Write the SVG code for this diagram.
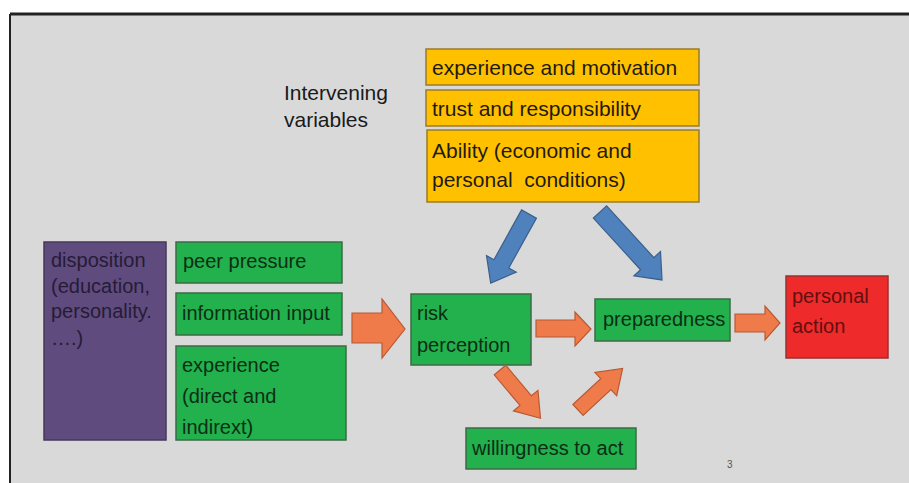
<svg xmlns="http://www.w3.org/2000/svg" width="909" height="483" viewBox="0 0 909 483">
<style>
text{font-family:"Liberation Sans",Arial,sans-serif;}
.y{fill:#ffc000;stroke:#9a7b2a;stroke-width:1.5}
.g{fill:#22b14c;stroke:#3d6b46;stroke-width:1.5}
.p{fill:#5f4b7e;stroke:#463a5a;stroke-width:1.5}
.r{fill:#ee2a2a;stroke:#9a3030;stroke-width:1.5}
.ty{font-size:21px;fill:#1f1a10}
.tg{font-size:20px;fill:#0c2e16}
.tp{font-size:20px;fill:#261b36}
.tr{font-size:20px;fill:#621010}
.o{fill:#ef7a4a;stroke:#b85a35;stroke-width:1.2}
.b{fill:#4f81bd;stroke:#3a5f8c;stroke-width:1.2}
</style>
<rect x="0" y="0" width="909" height="483" fill="#ffffff"/>
<rect x="10" y="15" width="899" height="468" fill="#d9d9d9"/>
<line x1="10" y1="14" x2="909" y2="14" stroke="#222" stroke-width="3"/>
<line x1="10" y1="14" x2="10" y2="483" stroke="#222" stroke-width="2"/>

<g id="intervening-label">
<text x="284" y="100" style="font-size:21px" fill="#1a1a1a">Intervening</text>
<text x="284" y="127" style="font-size:21px" fill="#1a1a1a">variables</text>
</g>
<g id="experience-motivation">
<rect class="y" x="426" y="49" width="273" height="36"/>
<text class="ty" x="432" y="75">experience and motivation</text>
</g>
<g id="trust-responsibility">
<rect class="y" x="426" y="90" width="273" height="36"/>
<text class="ty" x="432" y="116">trust and responsibility</text>
</g>
<g id="ability">
<rect class="y" x="427" y="130" width="272" height="72"/>
<text class="ty" x="432" y="158">Ability (economic and</text>
<text class="ty" x="432" y="187" xml:space="preserve">personal  conditions)</text>
</g>

<g id="disposition">
<rect class="p" x="44" y="242" width="122" height="198"/>
<text class="tp" x="51" y="267">disposition</text>
<text class="tp" x="51" y="293">(education,</text>
<text class="tp" x="51" y="318">personality.</text>
<text class="tp" x="51" y="345">….)</text>
</g>
<g id="peer-pressure">
<rect class="g" x="176" y="242" width="166" height="41"/>
<text class="tg" x="183" y="268">peer pressure</text>
</g>
<g id="information-input">
<rect class="g" x="176" y="293" width="166" height="42"/>
<text class="tg" x="182" y="320">information input</text>
</g>
<g id="experience">
<rect class="g" x="176" y="346" width="170" height="94"/>
<text class="tg" x="182" y="372">experience</text>
<text class="tg" x="182" y="403">(direct and</text>
<text class="tg" x="182" y="434">indirext)</text>
</g>
<g id="risk-perception">
<rect class="g" x="411" y="294" width="120" height="71"/>
<text class="tg" x="417" y="320">risk</text>
<text class="tg" x="417" y="352">perception</text>
</g>
<g id="preparedness">
<rect class="g" x="595" y="299" width="135" height="42"/>
<text class="tg" x="603" y="326">preparedness</text>
</g>
<g id="willingness">
<rect class="g" x="466" y="428" width="170" height="41"/>
<text class="tg" x="472" y="455">willingness to act</text>
</g>
<g id="personal-action">
<rect class="r" x="786" y="276" width="102" height="82"/>
<text class="tr" x="792" y="303">personal</text>
<text class="tr" x="792" y="333">action</text>
</g>

<g id="connectors">
<polygon class="o" points="352,313 382,313 382,299 405,329 382,358 382,343 352,343"/>
<polygon class="o" points="536,320 575,320 575,312 591,329 575,346 575,337 536,337"/>
<polygon class="o" points="735,314 765,314 765,306 780,323 765,340 765,332 735,332"/>
<polygon class="o" transform="translate(500,370) rotate(50)" points="0,-7.5 40,-7.5 40,-16 63,0 40,16 40,7.5 0,7.5"/>
<polygon class="o" transform="translate(578,410) rotate(-43)" points="0,-7.5 38,-7.5 38,-16 61,0 38,16 38,7.5 0,7.5"/>
<polygon class="b" transform="translate(529,214) rotate(119)" points="0,-8.5 57,-8.5 57,-17 79,0 57,17 57,8.5 0,8.5"/>
<polygon class="b" transform="translate(600,212) rotate(47.6)" points="0,-9 70,-9 70,-18 92,0 70,18 70,9 0,9"/>
</g>
<text x="727" y="468" style="font-size:10px" fill="#555">3</text>
</svg>
